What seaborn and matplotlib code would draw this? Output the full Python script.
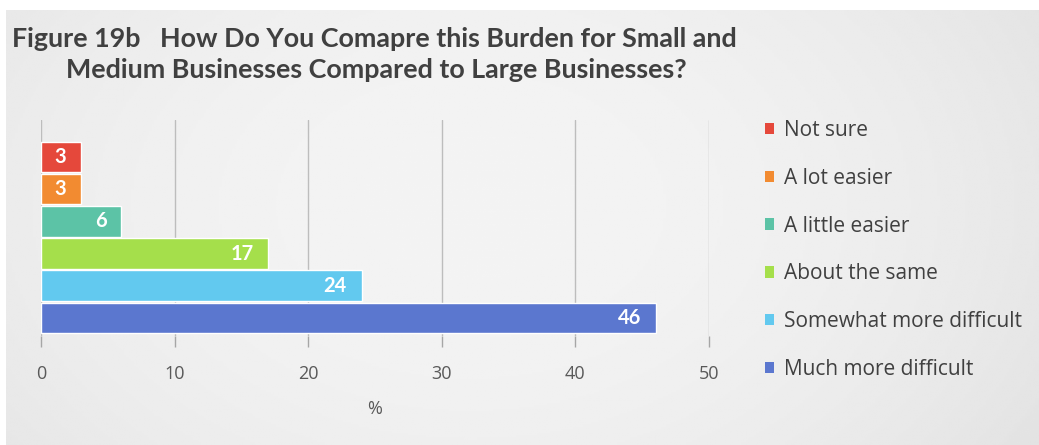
import numpy as np
import pandas as pd
import matplotlib
matplotlib.use("Agg")
import matplotlib.pyplot as plt
from matplotlib.patches import Patch
import seaborn as sns

# Survey responses (percent)
categories = ["Not sure", "A lot easier", "A little easier", "About the same",
              "Somewhat more difficult", "Much more difficult"]
values = [3, 3, 6, 17, 24, 46]
colors = ["#e5483b", "#f28b31", "#5cc3a6", "#a5df4b", "#62c9ef", "#5b77cf"]
x_ticks = [0, 10, 20, 30, 40, 50]

title_line1 = "Figure 19b   How Do You Comapre this Burden for Small and"
title_line2 = "Medium Businesses Compared to Large Businesses?"

df = pd.DataFrame({"category": categories, "value": values})

sns.set_theme(style="white")
plt.rcParams["font.family"] = ["Open Sans", "DejaVu Sans"]

W, H = 1039, 445
fig = plt.figure(figsize=(W / 100, H / 100), dpi=100, facecolor="white")

# Shaded panel behind the chart
bg = fig.add_axes([6 / W, 0, 1 - 6 / W, 1 - 10 / H], zorder=0)
yy, xx = np.mgrid[0:1:200j, 0:1:400j]
shade = 0.955 - 0.10 * ((xx - 0.45) ** 2 * 1.6 + (yy - 0.45) ** 2 * 0.6)
shade = np.clip(shade, 0.80, 0.96)
bg.imshow(shade, cmap="gray", vmin=0, vmax=1, aspect="auto", extent=[0, 1, 0, 1])
bg.set_axis_off()

# Main bar axes
x0, x1 = 41, 709
y_top, y_bot = 120, 336
ax = fig.add_axes([x0 / W, 1 - y_bot / H, (x1 - x0) / W, (y_bot - y_top) / H], zorder=1)
ax.patch.set_alpha(0)

sns.barplot(data=df, x="value", y="category", hue="category", palette=colors,
            order=categories, hue_order=categories, legend=False,
            width=0.95, orient="h", ax=ax, zorder=2, saturation=1)

ax.set_xlim(0, 50)
band = 32.2
pad_bottom = (y_bot - 334) / band
ax.set_ylim(5.5 + pad_bottom, 5.5 + pad_bottom - (y_bot - y_top) / band)

ax.set_xticks(x_ticks)
ax.set_xticklabels([str(t) for t in x_ticks])
ax.xaxis.grid(True, color="#bdbdbd", linewidth=1.0, zorder=0)
ax.set_axisbelow(True)
ax.tick_params(axis="x", bottom=True, direction="out", length=8, width=1,
               color="#a6a6a6", labelsize=13, labelcolor="#595959", pad=13)
ax.set_yticks([])
ax.set_ylabel("")
ax.set_xlabel("%", fontsize=13, color="#595959", labelpad=12)
for s in ax.spines.values():
    s.set_visible(False)

# Value labels inside bar ends
for i, (cat, v) in enumerate(zip(categories, values)):
    ax.text(v - 1.1, i, f"{v}", ha="right", va="center", color="white",
            fontsize=14.5, fontweight="bold", zorder=3,
            family=["Lato", "DejaVu Sans"])

# Legend
handles = [Patch(facecolor=c, edgecolor="none") for c in colors]
fig.legend(handles, categories, loc="upper left", bbox_to_anchor=(746 / W, 1 - 101 / H),
           frameon=False, fontsize=15, labelcolor="#404040", handlelength=0.45,
           handleheight=0.45, handletextpad=0.45, labelspacing=1.29)

# Title
fig.text(12 / W, 1 - 47 / H, title_line1, fontsize=19.4, fontweight="bold",
         color="#404040", ha="left", va="baseline", family=["Lato", "DejaVu Sans"])
fig.text(66 / W, 1 - 78 / H, title_line2, fontsize=19.4, fontweight="bold",
         color="#404040", ha="left", va="baseline", family=["Lato", "DejaVu Sans"])

fig.savefig("out.png", dpi=100, facecolor=fig.get_facecolor())
